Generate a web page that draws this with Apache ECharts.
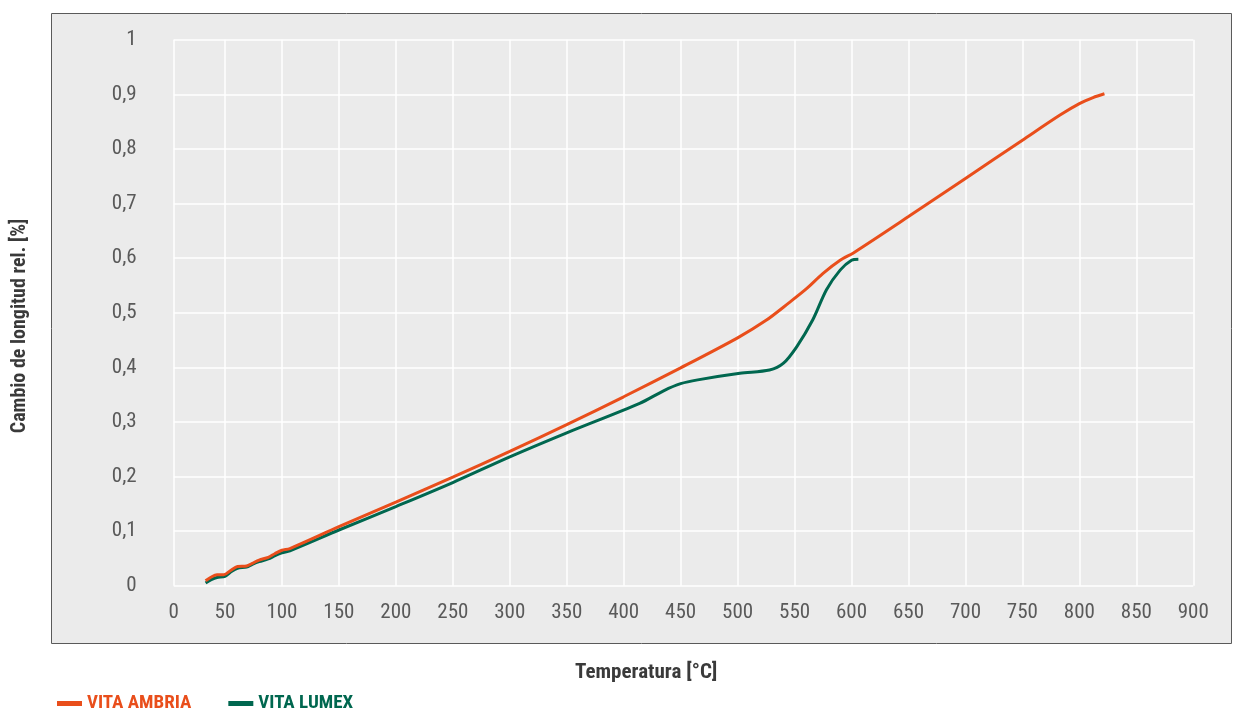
<!DOCTYPE html>
<html>
<head>
<meta charset="utf-8">
<script src="https://cdn.jsdelivr.net/npm/echarts@6/dist/echarts.min.js"></script>
<style>
  html, body { margin: 0; padding: 0; background: #ffffff; }
  #chart { width: 1233px; height: 709px; }
</style>
</head>
<body>
<div id="chart"></div>
<script>
// ---- data ----
var seriesNames = ['VITA AMBRIA', 'VITA LUMEX'];
var seriesColors = ['#e94e1b', '#00674f'];

var tempAmbria = [33, 38, 43, 49, 55, 61, 69, 74, 80, 88, 94, 100, 107, 150, 200, 250, 300, 350, 400, 450, 500, 525, 545, 560, 575, 590, 602, 650, 700, 750, 783, 800, 812, 822];
var valAmbria  = [0.009, 0.016, 0.020, 0.020, 0.028, 0.035, 0.036, 0.041, 0.047, 0.052, 0.059, 0.065, 0.068, 0.108, 0.153, 0.199, 0.246, 0.295, 0.346, 0.399, 0.454, 0.486, 0.518, 0.543, 0.572, 0.596, 0.610, 0.676, 0.746, 0.816, 0.862, 0.883, 0.894, 0.901];

var tempLumex = [33, 38, 43, 50, 55, 61, 69, 74, 80, 88, 94, 100, 107, 150, 200, 250, 300, 350, 414, 435, 450, 465, 502, 528, 540, 552, 566, 578, 590, 600, 606];
var valLumex  = [0.005, 0.011, 0.015, 0.017, 0.025, 0.032, 0.034, 0.039, 0.044, 0.049, 0.055, 0.060, 0.064, 0.102, 0.145, 0.189, 0.236, 0.280, 0.334, 0.357, 0.370, 0.377, 0.389, 0.395, 0.407, 0.438, 0.487, 0.542, 0.578, 0.596, 0.598];

var xAxisTitle = 'Temperatura [°C]';
var yAxisTitle = 'Cambio de longitud rel. [%]';

// ---- build ----
function pairs(xs, ys) { return xs.map(function (x, i) { return [x, ys[i]]; }); }

var FONT = '"Liberation Sans Narrow", "Roboto Condensed", "DejaVu Sans Condensed", Roboto, sans-serif';

var chart = echarts.init(document.getElementById('chart'), null, { renderer: 'canvas' });
chart.setOption({
  backgroundColor: '#ffffff',
  animation: false,
  graphic: [
    { type: 'rect', z: -100, silent: true,
      shape: { x: 51.5, y: 13.5, width: 1180, height: 630 },
      style: { fill: '#ebebeb', stroke: '#5a5a5a', lineWidth: 1 } },
    { type: 'text', left: 575, top: 662, silent: true,
      style: { text: xAxisTitle, font: 'bold 21px ' + FONT, fill: '#3a3a3a' } },
    { type: 'text', x: 10, y: 326, rotation: Math.PI / 2, silent: true,
      style: { text: yAxisTitle, font: 'bold 20px ' + FONT, fill: '#3a3a3a', align: 'center', verticalAlign: 'top' } }
  ],
  legend: {
    left: 52, top: 689,
    icon: 'rect', itemWidth: 25, itemHeight: 5, itemGap: 37,
    textStyle: { fontFamily: FONT, fontSize: 19, fontWeight: 'bold' },
    data: [
      { name: seriesNames[0], textStyle: { color: seriesColors[0] } },
      { name: seriesNames[1], textStyle: { color: seriesColors[1] } }
    ]
  },
  grid: { left: 173.7, right: 39.7, top: 39.7, bottom: 123.3, containLabel: false },
  xAxis: {
    type: 'value', min: 5, max: 900, splitNumber: 18,
    axisLine: { show: false }, axisTick: { show: false },
    splitLine: { show: true, lineStyle: { color: '#ffffff', width: 1.5 } },
    axisLabel: {
      margin: 17, color: '#5a5a5a', fontFamily: FONT, fontSize: 21,
      formatter: function (v) { return v === 5 ? '0' : String(v); }
    }
  },
  yAxis: {
    type: 'value', min: 0, max: 1, interval: 0.1,
    axisLine: { show: false }, axisTick: { show: false },
    splitLine: { show: true, lineStyle: { color: '#ffffff', width: 1.5 } },
    axisLabel: {
      margin: 37, color: '#5a5a5a', fontFamily: FONT, fontSize: 21, padding: [9, 0, 0, 0],
      formatter: function (v) { return String(+v.toFixed(1)).replace('.', ','); }
    }
  },
  series: [
    { name: seriesNames[0], type: 'line', data: pairs(tempAmbria, valAmbria), smooth: 0.3,
      showSymbol: false, color: seriesColors[0], lineStyle: { width: 3, color: seriesColors[0] }, z: 3 },
    { name: seriesNames[1], type: 'line', data: pairs(tempLumex, valLumex), smooth: 0.3,
      showSymbol: false, color: seriesColors[1], lineStyle: { width: 3, color: seriesColors[1] }, z: 2 }
  ]
});
</script>
</body>
</html>
